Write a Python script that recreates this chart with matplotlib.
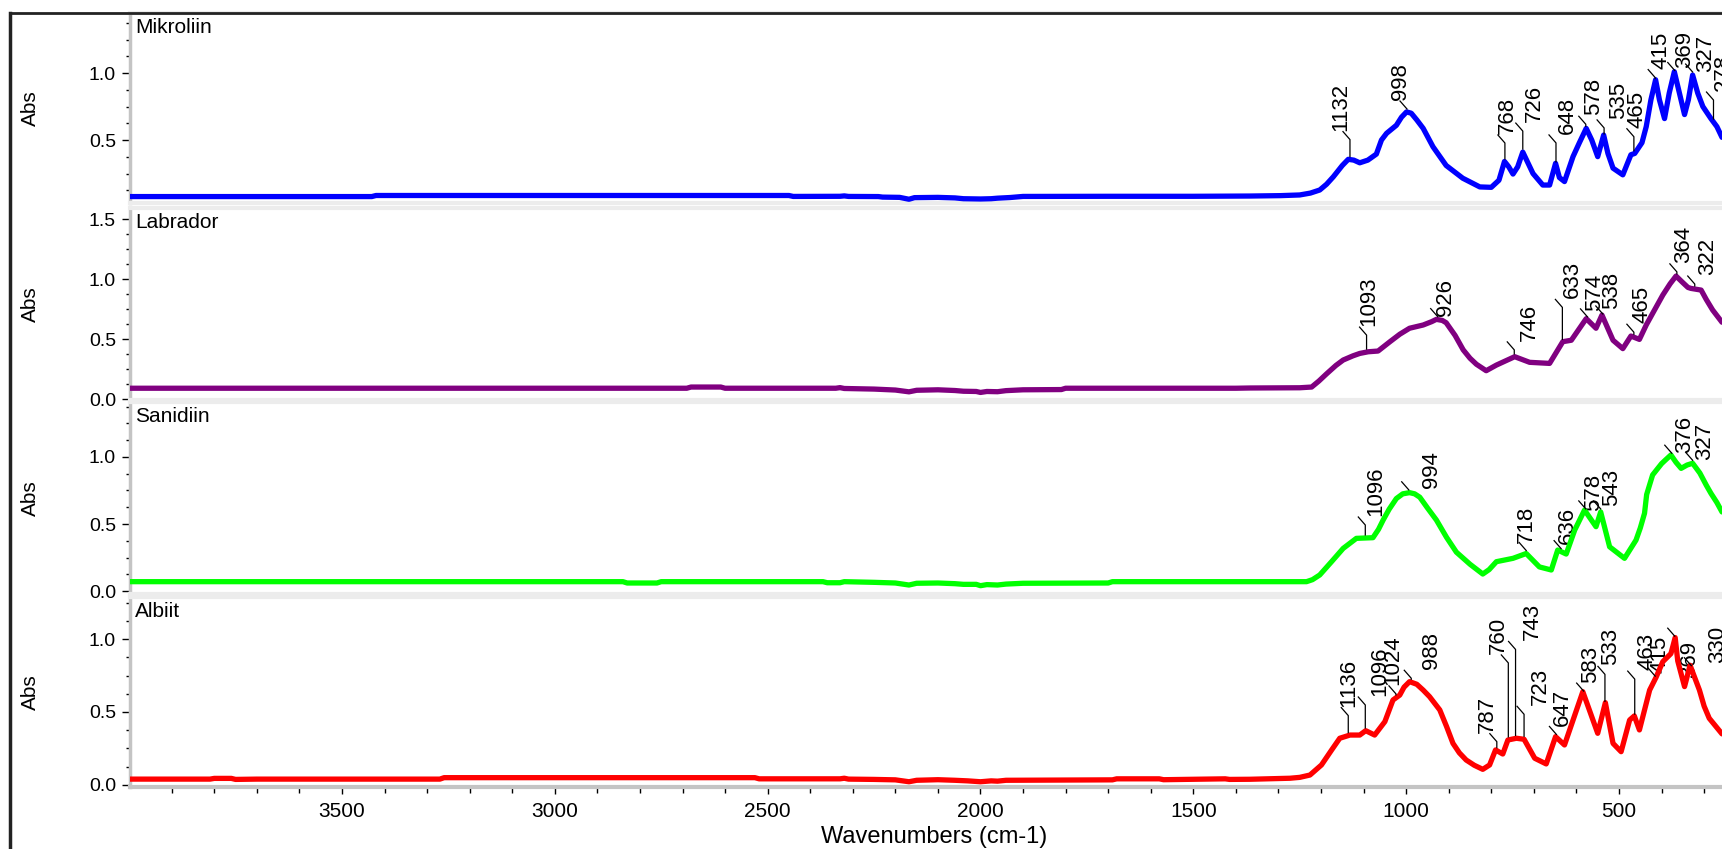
import numpy as np
import matplotlib
matplotlib.use('Agg')
import matplotlib.pyplot as plt
from matplotlib.lines import Line2D
from matplotlib.transforms import IdentityTransform
from matplotlib.ticker import MultipleLocator, FormatStrFormatter

plt.rcParams['font.family'] = ['Liberation Sans', 'DejaVu Sans']

# ---- spectra (wavenumber cm-1, absorbance) ----
mik_wn = [4000, 3430, 3420, 2450, 2440, 2330, 2320, 2310, 2240, 2230, 2190, 2168, 2155, 2100, 2060, 2040,
          2000, 1975, 1960, 1930, 1900, 1700, 1500, 1367, 1295, 1250, 1225, 1203, 1187, 1171, 1150, 1136,
          1123, 1109, 1090, 1070, 1058, 1046, 1023, 1011, 999, 988, 975, 960, 937, 906, 867, 827, 800,
          782, 769, 759, 749, 738, 726, 714, 702, 679, 663, 649, 640, 628, 608, 593, 577, 564, 550, 536,
          526, 514, 491, 472, 463, 446, 436, 425, 414, 405, 393, 382, 370, 358, 346, 337, 327, 315, 303,
          284, 270, 258]
mik_abs = [.078, .078, .086, .086, .079, .080, .083, .079, .078, .074, .072, .058, .070, .072, .068, .062,
           .060, .062, .066, .071, .079, .080, .080, .082, .085, .090, .104, .127, .170, .226, .310, .356,
           .350, .330, .350, .395, .500, .550, .610, .670, .710, .700, .650, .587, .450, .310, .215, .150,
           .147, .200, .340, .300, .246, .300, .410, .330, .250, .164, .164, .326, .220, .190, .376, .480,
           .587, .500, .376, .537, .400, .290, .240, .390, .400, .480, .600, .800, .950, .800, .660, .850,
           1.010, .850, .690, .800, .985, .850, .750, .660, .600, .520]

lab_wn = [4000, 2690, 2680, 2610, 2600, 2340, 2330, 2320, 2250, 2200, 2168, 2150, 2100, 2060, 2040, 2010,
          2000, 1985, 1960, 1940, 1900, 1810, 1800, 1400, 1367, 1250, 1222, 1205, 1187, 1165, 1148, 1125,
          1109, 1089, 1066, 1038, 1015, 992, 960, 940, 929, 915, 906, 885, 866, 850, 835, 812, 788, 745,
          710, 663, 632, 612, 577, 554, 540, 514, 491, 472, 452, 436, 420, 397, 380, 366, 350, 338, 331,
          307, 295, 280, 258]
lab_abs = [.090, .090, .100, .100, .090, .090, .095, .088, .083, .075, .060, .073, .077, .071, .065, .063,
           .055, .063, .061, .070, .077, .079, .090, .090, .092, .094, .100, .150, .210, .280, .325, .360,
           .380, .394, .400, .478, .540, .590, .617, .645, .664, .655, .636, .530, .410, .340, .290, .236,
           .283, .353, .306, .297, .478, .490, .670, .590, .700, .490, .420, .525, .497, .617, .720, .867,
           .960, 1.025, .970, .930, .922, .908, .830, .742, .640]

san_wn = [4000, 2840, 2830, 2760, 2750, 2370, 2360, 2330, 2320, 2250, 2200, 2168, 2150, 2100, 2060, 2040,
          2010, 2000, 1985, 1960, 1940, 1900, 1700, 1690, 1367, 1234, 1220, 1203, 1175, 1148, 1117, 1078,
          1065, 1054, 1040, 1023, 1008, 992, 980, 968, 950, 929, 905, 882, 850, 820, 805, 788, 749, 718,
          687, 659, 644, 624, 604, 581, 554, 543, 522, 487, 460, 450, 440, 435, 421, 410, 400, 390, 378,
          366, 354, 340, 327, 310, 295, 284, 270, 258]
san_abs = [.070, .070, .060, .060, .070, .070, .062, .062, .070, .065, .060, .045, .058, .060, .055, .050,
           .050, .040, .048, .045, .052, .058, .060, .070, .070, .070, .085, .120, .220, .318, .393, .398,
           .460, .530, .610, .690, .725, .734, .725, .700, .620, .530, .400, .290, .200, .127, .160, .219,
           .244, .280, .180, .157, .306, .276, .455, .604, .480, .590, .330, .244, .380, .470, .580, .720,
           .866, .910, .950, .980, 1.015, .960, .915, .940, .953, .880, .790, .729, .660, .590]

alb_wn = [4000, 3810, 3800, 3760, 3750, 3700, 3270, 3260, 2530, 2520, 2330, 2320, 2310, 2250, 2200, 2168,
          2150, 2100, 2060, 2030, 2000, 1975, 1960, 1940, 1690, 1680, 1580, 1570, 1425, 1415, 1367, 1273,
          1250, 1226, 1199, 1175, 1156, 1132, 1109, 1095, 1074, 1050, 1031, 1015, 1005, 992, 975, 960,
          945, 921, 905, 890, 875, 859, 840, 820, 804, 790, 773, 761, 741, 723, 698, 671, 649, 628, 585,
          550, 532, 514, 495, 475, 464, 452, 428, 413, 397, 378, 368, 362, 346, 333, 311, 300, 288, 258]
alb_abs = [.040, .040, .045, .045, .038, .040, .040, .050, .050, .042, .042, .046, .040, .038, .035, .022,
           .032, .036, .032, .028, .022, .028, .026, .032, .035, .042, .042, .036, .042, .038, .039, .046,
           .052, .068, .137, .240, .320, .342, .342, .372, .342, .434, .582, .616, .670, .708, .690, .650,
           .605, .514, .400, .285, .220, .171, .135, .107, .137, .240, .212, .308, .320, .313, .183, .144,
           .331, .274, .639, .354, .564, .285, .228, .445, .473, .377, .650, .737, .845, .900, 1.010, .850,
           .674, .820, .650, .540, .457, .350]

names = ['Mikroliin', 'Labrador', 'Sanidiin', 'Albiit']
colors = ['#0000ff', '#800080', '#00ff00', '#ff0000']

mik_peaks = [1132, 998, 768, 726, 648, 578, 535, 465, 415, 369, 327, 278]
lab_peaks = [1093, 926, 746, 633, 574, 538, 465, 364, 322]
san_peaks = [1096, 994, 718, 636, 578, 543, 376, 327]
alb_peaks = [1136, 1096, 1024, 988, 787, 760, 743, 723, 647, 583, 533, 463, 415, 369, 330]

# label placement (pixels): lift above peak, horizontal shift
mik_lift = [28, 11, 27, 29, 30, 13, 17, 25, 12, 4, 2, 30]
mik_dx = [-9, -7, 2, 12, 11, 8, 14, 3, 6, 10, 13, 10]
lab_lift = [25, 3, 15, 43, 8, 7, 13, 13, 13]
lab_dx = [2, 8, 15, 10, 7, 9, 8, 7, 13]
san_lift = [21, 4, 10, 7, 0, 5, 2, 2]
san_dx = [10, 23, 0, 6, 8, 11, 13, 12]
alb_lift = [28, 34, 12, 12, 17, 85, 97, 33, 10, 10, 38, 46, 5, -40, 5]
alb_dx = [0, 14, -3, 20, -9, -10, 17, 16, 6, 7, 6, 12, 5, 15, 26]

spectra = [(mik_wn, mik_abs, mik_peaks, mik_lift, mik_dx),
           (lab_wn, lab_abs, lab_peaks, lab_lift, lab_dx),
           (san_wn, san_abs, san_peaks, san_lift, san_dx),
           (alb_wn, alb_abs, alb_peaks, alb_lift, alb_dx)]

W, H = 1722, 849
# panel top / bottom in pixels, y limits
boxes = [(13, 203), (208, 400), (402, 594), (597, 787)]
ylims = [(0.03, 1.448), (-0.008, 1.592), (-0.022, 1.41), (-0.014, 1.288)]

fig = plt.figure(figsize=(W / 100, H / 100), dpi=100)
left = 130

for i, (top, bot) in enumerate(boxes):
    ax = fig.add_axes([left / W, 1 - bot / H, (W - left) / W, (bot - top) / H])
    wn, ab, peaks, lifts, dxs = spectra[i]
    ax.plot(wn, ab, color=colors[i], lw=3.8, solid_joinstyle='round', solid_capstyle='round', zorder=3)
    ax.set_xlim(3998, 258)
    ax.set_ylim(*ylims[i])
    ax.yaxis.set_major_locator(MultipleLocator(0.5))
    ax.yaxis.set_minor_locator(MultipleLocator(0.125))
    ax.yaxis.set_major_formatter(FormatStrFormatter('%.1f'))
    ax.xaxis.set_major_locator(MultipleLocator(500))
    ax.xaxis.set_minor_locator(MultipleLocator(100))
    ax.tick_params(axis='y', which='major', length=6, width=1, color='black', labelsize=14, pad=4)
    ax.tick_params(axis='y', which='minor', length=3, width=1, color='black')
    ax.spines['right'].set_visible(False)
    ax.spines['left'].set_color('#c4c4c4')
    ax.spines['left'].set_linewidth(2.5)
    for s in ['top', 'bottom']:
        ax.spines[s].set_color('#ececec')
        ax.spines[s].set_linewidth(3)
    if i < 3:
        ax.tick_params(axis='x', which='both', bottom=False, labelbottom=False)
    else:
        ax.spines['bottom'].set_color('#c4c4c4')
        ax.tick_params(axis='x', which='major', length=5, width=1, color='black', labelsize=15, pad=6)
        ax.tick_params(axis='x', which='minor', length=4, width=1, color='black')
    ax.annotate(names[i], xy=(0, 1), xycoords='axes fraction', xytext=(5, -5),
                textcoords='offset pixels', ha='left', va='top', fontsize=15)
    fig.text(30 / W, 1 - (top + bot) / 2 / H, 'Abs', rotation=90, ha='center', va='center',
             fontsize=15)

    # peak labels with leader lines
    for p, lift, dx in zip(peaks, lifts, dxs):
        yp = np.interp(p, wn[::-1], ab[::-1])
        ax.annotate(str(p), xy=(p, yp), xytext=(dx, lift + 1), textcoords='offset pixels',
                    rotation=90, ha='center', va='bottom', fontsize=16, zorder=1)
        px, py = ax.transData.transform((p, yp))
        top_v = max(lift - 8, 3)
        xs = [px, px, px - 7]
        ys = [py + 3, py + top_v, py + max(lift, 11)]
        fig.add_artist(Line2D(xs, ys, transform=IdentityTransform(), color='black', lw=0.9))

fig.text(934 / W, 1 - 837 / H, 'Wavenumbers (cm-1)', ha='center', va='center', fontsize=17)

# frame
fig.add_artist(Line2D([10, W], [H - 13, H - 13], transform=IdentityTransform(), color='#222222', lw=2))
fig.add_artist(Line2D([10, 10], [0, H - 13], transform=IdentityTransform(), color='#222222', lw=2.5))

fig.savefig('out.png', dpi=100)
